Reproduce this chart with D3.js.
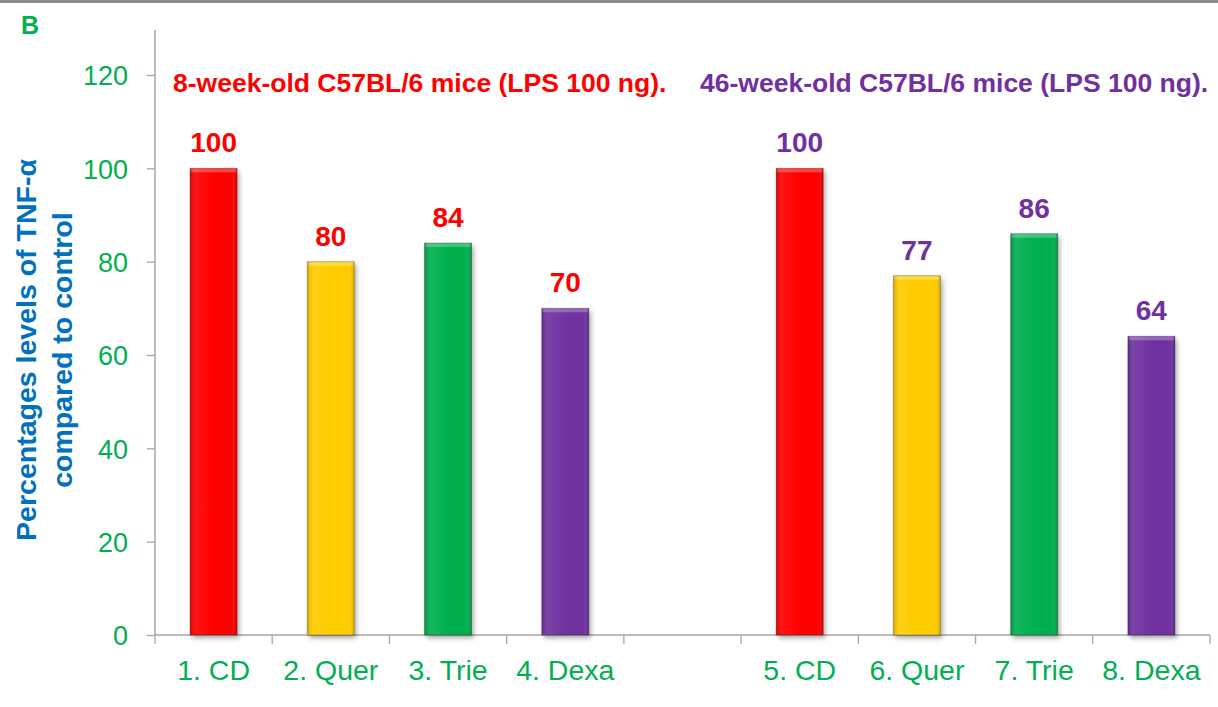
<!DOCTYPE html>
<html><head><meta charset="utf-8">
<script src="https://cdn.jsdelivr.net/npm/d3@7"></script>
<style>body{margin:0;background:#fff;font-family:"Liberation Sans",Arial,sans-serif;}</style>
</head><body>
<svg id="c" width="1218" height="707"></svg>
<script>
const categories = ["1. CD","2. Quer","3. Trie","4. Dexa","","5. CD","6. Quer","7. Trie","8. Dexa"];
const values = [100,80,84,70,null,100,77,86,64];
const barColors = ["#FF0000","#FFCC00","#00B050","#7030A0",null,"#FF0000","#FFCC00","#00B050","#7030A0"];
const labelColors = ["#FF0000","#FF0000","#FF0000","#FF0000",null,"#7030A0","#7030A0","#7030A0","#7030A0"];
const yTicks = [0,20,40,60,80,100,120];
const groupTitles = ["8-week-old C57BL/6 mice (LPS 100 ng).","46-week-old C57BL/6 mice (LPS 100 ng)."];

const svg = d3.select("#c");
const L = 155, R = 1210, T = 30, B = 635;
const x = d3.scaleBand().domain(d3.range(categories.length)).range([L,R]);
const y = d3.scaleLinear().domain([0,120]).range([B,75]);

const defs = svg.append("defs");
const f = defs.append("filter").attr("id","sh").attr("x","-20%").attr("y","-10%").attr("width","150%").attr("height","130%");
f.append("feDropShadow").attr("dx",2).attr("dy",3).attr("stdDeviation",2.5).attr("flood-color","#000").attr("flood-opacity",0.35);
const hg = defs.append("linearGradient").attr("id","hl").attr("x1",0).attr("x2",1).attr("y1",0).attr("y2",0);
hg.append("stop").attr("offset","0").attr("stop-color","#000").attr("stop-opacity",0.18);
hg.append("stop").attr("offset","0.12").attr("stop-color","#fff").attr("stop-opacity",0.08);
hg.append("stop").attr("offset","0.5").attr("stop-color","#fff").attr("stop-opacity",0);
hg.append("stop").attr("offset","0.88").attr("stop-color","#fff").attr("stop-opacity",0);
hg.append("stop").attr("offset","1").attr("stop-color","#000").attr("stop-opacity",0.2);

// top gray border
svg.append("rect").attr("x",0).attr("y",0).attr("width",1218).attr("height",3).attr("fill","#8c8c8c");

svg.append("text").attr("x",21).attr("y",34).attr("fill","#00B050").attr("font-weight","bold").attr("font-size",25).text("B");

// y axis
const ya = svg.append("g").attr("transform",`translate(${L},0)`)
  .call(d3.axisLeft(y).tickValues(yTicks).tickSize(8).tickPadding(19));
ya.select(".domain").remove();
ya.selectAll(".tick line").attr("stroke","#a6a6a6").attr("stroke-width",1.3);
ya.selectAll(".tick text").attr("fill","#00B050").attr("font-size",27).attr("font-family","Liberation Sans, Arial").attr("dy","0.36em");
svg.append("line").attr("x1",L).attr("x2",L).attr("y1",T).attr("y2",B).attr("stroke","#a6a6a6").attr("stroke-width",1.5);

// x axis
svg.append("line").attr("x1",L).attr("x2",R).attr("y1",B).attr("y2",B).attr("stroke","#a6a6a6").attr("stroke-width",1.5);
const xt = d3.range(categories.length+1).map(i => L + i*x.bandwidth());
svg.selectAll(".xt").data(xt).enter().append("line")
  .attr("x1",d=>d).attr("x2",d=>d).attr("y1",B).attr("y2",B+9).attr("stroke","#a6a6a6").attr("stroke-width",1.3);
svg.selectAll(".xl").data(categories).enter().append("text")
  .attr("x",(d,i)=>x(i)+x.bandwidth()/2).attr("y",680).attr("text-anchor","middle")
  .attr("fill","#00B050").attr("font-size",28.5).text(d=>d);

// bars
const bw = 47;
const data = values.map((v,i)=>({v,i})).filter(d=>d.v!==null);
const bars = svg.selectAll(".bar").data(data).enter().append("g");
bars.append("rect").attr("x",d=>x(d.i)+x.bandwidth()/2-bw/2).attr("width",bw)
  .attr("y",d=>y(d.v)).attr("height",d=>B-y(d.v)).attr("fill",d=>barColors[d.i]).attr("filter","url(#sh)");
bars.append("rect").attr("x",d=>x(d.i)+x.bandwidth()/2-bw/2).attr("width",bw)
  .attr("y",d=>y(d.v)).attr("height",d=>B-y(d.v)).attr("fill","url(#hl)");
bars.append("rect").attr("x",d=>x(d.i)+x.bandwidth()/2-bw/2+1).attr("width",bw-2)
  .attr("y",d=>y(d.v)).attr("height",4).attr("fill","#fff").attr("opacity",0.25);
bars.append("rect").attr("x",d=>x(d.i)+x.bandwidth()/2-bw/2).attr("width",bw)
  .attr("y",d=>y(d.v)).attr("height",d=>B-y(d.v)).attr("fill","none").attr("stroke","#000").attr("stroke-opacity",0.25).attr("stroke-width",1);
bars.append("text").attr("x",d=>x(d.i)+x.bandwidth()/2).attr("y",d=>y(d.v)-16).attr("text-anchor","middle")
  .attr("fill",d=>labelColors[d.i]).attr("font-weight","bold").attr("font-size",28).text(d=>d.v);

// group titles
svg.append("text").attr("x",173).attr("y",92).attr("fill","#FF0000").attr("font-weight","bold").attr("font-size",26.5).text(groupTitles[0]);
svg.append("text").attr("x",700).attr("y",92).attr("fill","#7030A0").attr("font-weight","bold").attr("font-size",26.5).text(groupTitles[1]);

// y title
const yt = svg.append("text").attr("transform","translate(0,350) rotate(-90)").attr("text-anchor","middle")
  .attr("fill","#0070C0").attr("font-weight","bold").attr("font-size",28.5);
yt.append("tspan").attr("x",0).attr("y",36).text("Percentages levels of TNF-α");
yt.append("tspan").attr("x",0).attr("y",72).text("compared to control");
</script>
</body></html>
